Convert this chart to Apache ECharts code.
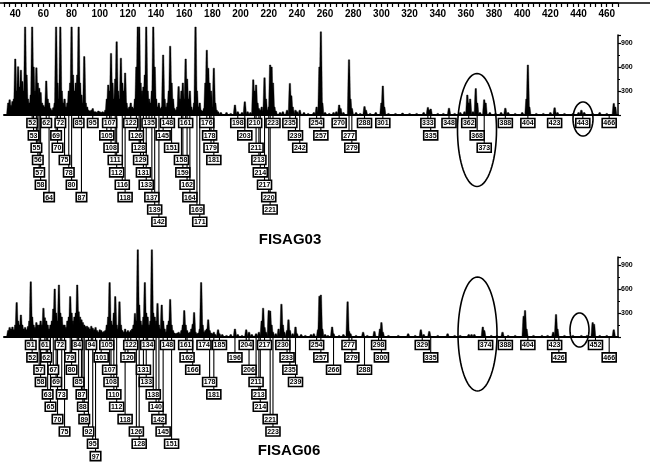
<!DOCTYPE html>
<html>
<head>
<meta charset="utf-8">
<script src="https://cdn.jsdelivr.net/npm/echarts@6/dist/echarts.min.js"></script>
<style>
  html, body { margin: 0; padding: 0; background: #fff; }
  #main { width: 656px; height: 466px; }
</style>
</head>
<body>
<div id="main"></div>
<script>
// m/z ruler
var mzMin = 32, mzMax = 468;
var yTicks = [300, 600, 900];

// FISAG03 spectrum, [m/z, intensity]
var topPeaks = [
  [35,150],[36,190],[37,120],[38,170],[39,200],[40,700],[41,300],[42,604],[43,350],[44,560],
  [45,420],[46,300],[47,1100],[48,500],[49,200],[50,150],[51,250],[52,1100],[53,600],[54,300],
  [55,590],[56,400],[57,335],[58,280],[59,150],[60,120],[61,100],[62,425],[63,200],[64,150],
  [65,80],[66,60],[67,90],[68,150],[69,1100],[70,400],[71,200],[72,1100],[73,300],[74,150],
  [75,200],[76,100],[77,150],[78,300],[79,400],[80,1100],[81,500],[82,300],[83,400],[84,500],
  [85,1100],[86,400],[87,250],[88,150],[89,730],[90,150],[91,100],[92,60],[93,50],[94,60],
  [95,80],[96,40],[97,40],[98,30],[99,50],[100,40],[101,30],[102,40],[103,30],[104,60],
  [105,200],[106,375],[107,300],[108,770],[109,400],[110,200],[111,450],[112,915],[113,300],[114,200],
  [115,710],[116,400],[117,300],[118,525],[119,150],[120,80],[121,100],[122,150],[123,100],[124,80],
  [125,200],[126,600],[127,1100],[128,1100],[129,400],[130,300],[131,350],[132,500],[133,1100],[134,300],
  [135,200],[136,150],[137,300],[138,1100],[139,600],[140,200],[141,100],[142,150],[143,80],[144,100],
  [145,750],[146,200],[147,100],[148,150],[149,300],[150,860],[151,400],[152,200],[153,80],[154,60],
  [155,100],[156,355],[157,200],[158,300],[159,400],[160,200],[161,700],[162,450],[163,200],[164,300],
  [165,100],[166,60],[167,150],[168,1100],[169,300],[170,100],[171,150],[172,60],[173,50],[174,80],
  [175,400],[176,810],[177,585],[178,400],[179,300],[180,100],[181,585],[182,150],[183,60],[184,40],
  [186,30],[190,30],[193,20],[196,125],[198,40],[201,30],[203,165],[205,40],[207,30],[209,440],
  [210,300],[211,375],[212,150],[213,80],[214,60],[215,100],[217,465],[218,200],[219,60],[220,100],
  [221,625],[222,600],[223,400],[224,100],[225,50],[228,30],[230,40],[233,60],[235,395],[236,240],
  [237,100],[239,60],[240,40],[242,60],[245,30],[248,20],[252,30],[254,100],[256,600],[257,1040],
  [258,150],[260,30],[263,20],[266,30],[268,40],[270,125],[271,80],[273,30],[277,690],[278,200],
  [279,80],[282,30],[285,20],[288,105],[289,60],[292,20],[296,30],[300,150],[301,362],[302,100],
  [305,20],[310,20],[315,25],[320,20],[325,20],[330,30],[333,95],[334,60],[335,75],[340,20],
  [344,20],[348,85],[352,20],[356,30],[359,40],[361,250],[362,150],[363,200],[365,40],[367,330],
  [368,150],[370,30],[373,190],[374,150],[377,30],[381,20],[385,30],[388,85],[390,30],[395,20],
  [400,30],[403,200],[404,625],[405,100],[410,20],[415,20],[420,30],[423,90],[425,30],[430,20],
  [436,20],[440,30],[442,60],[444,30],[450,20],[455,30],[460,20],[465,145],[466,100]
];

// FISAG06 spectrum, [m/z, intensity]
var bottomPeaks = [
  [35,80],[36,120],[37,100],[38,125],[39,90],[40,150],[41,430],[42,200],[43,150],[44,275],
  [45,150],[46,100],[47,120],[48,90],[49,130],[50,200],[51,690],[52,250],[53,150],[54,120],
  [55,180],[56,150],[57,150],[58,200],[59,150],[60,360],[61,240],[62,200],[63,150],[64,100],
  [65,150],[66,200],[67,350],[68,600],[69,300],[70,200],[71,650],[72,300],[73,250],[74,150],
  [75,150],[76,120],[77,200],[78,250],[79,505],[80,300],[81,200],[82,250],[83,300],[84,650],
  [85,315],[86,250],[87,215],[88,180],[89,150],[90,130],[91,135],[92,120],[93,100],[94,135],
  [95,110],[96,90],[97,120],[98,80],[99,60],[100,90],[101,80],[102,60],[103,70],[104,80],
  [105,150],[106,250],[107,680],[108,200],[109,150],[110,300],[111,505],[112,150],[113,100],[114,440],
  [115,150],[116,80],[117,60],[118,100],[119,60],[120,80],[121,60],[122,80],[123,100],[124,150],
  [125,295],[126,200],[127,1090],[128,400],[129,200],[130,150],[131,250],[132,680],[133,300],[134,250],
  [135,150],[136,200],[137,1090],[138,300],[139,250],[140,200],[141,420],[142,150],[143,100],[144,400],
  [145,200],[146,100],[147,60],[148,150],[149,200],[150,470],[151,150],[152,80],[153,50],[154,40],
  [155,50],[156,60],[157,40],[158,80],[159,150],[160,330],[161,150],[162,80],[163,50],[164,60],
  [165,100],[166,160],[167,305],[168,60],[169,40],[170,50],[171,100],[172,680],[173,150],[174,60],
  [175,80],[176,100],[177,215],[178,80],[179,50],[180,40],[181,60],[182,30],[184,90],[185,40],
  [187,30],[190,20],[193,30],[196,100],[198,30],[201,20],[204,90],[206,60],[208,30],[211,40],
  [213,60],[215,200],[216,360],[217,120],[218,60],[220,330],[221,325],[222,150],[223,60],[225,40],
  [227,100],[229,410],[230,150],[231,60],[233,80],[234,215],[235,80],[237,40],[239,125],[240,40],
  [243,30],[246,20],[250,30],[252,40],[255,90],[256,510],[257,525],[258,100],[260,30],[262,20],
  [265,125],[266,40],[270,20],[273,30],[276,440],[277,70],[278,40],[282,20],[287,60],[290,20],
  [295,70],[299,100],[300,180],[301,60],[305,20],[312,20],[319,40],[324,20],[328,90],[330,30],
  [334,70],[340,20],[347,40],[352,20],[356,20],[362,30],[364,30],[366,30],[372,125],[373,80],
  [378,20],[382,20],[386,60],[390,20],[395,20],[401,260],[402,330],[403,100],[408,20],[414,20],
  [418,20],[422,60],[424,280],[425,100],[430,20],[436,20],[442,20],[446,20],[450,180],[451,160],
  [455,20],[460,20],[465,90]
];

// peak labels (m/z) and the row each box hangs in
var topLabels = [
  52,62,72,85,95,107,122,135,148,161,176,198,210,223,235,254,270,288,301,333,348,362,388,404,423,443,466,
  53,69,105,126,145,178,203,239,257,277,335,368,
  55,70,108,128,151,179,211,242,279,373,
  56,75,111,129,158,181,213,
  57,78,112,131,159,214,
  58,80,116,133,162,217,
  64,87,118,137,164,220,
  139,169,221,
  142,171
];
var topRows = [
  0,0,0,0,0,0,0,0,0,0,0,0,0,0,0,0,0,0,0,0,0,0,0,0,0,0,0,
  1,1,1,1,1,1,1,1,1,1,1,1,
  2,2,2,2,2,2,2,2,2,2,
  3,3,3,3,3,3,3,
  4,4,4,4,4,4,
  5,5,5,5,5,5,
  6,6,6,6,6,6,
  7,7,7,
  8,8
];
var bottomLabels = [
  51,61,72,84,94,105,122,134,148,161,174,185,204,217,230,254,277,298,329,374,388,404,423,452,
  52,62,79,101,120,162,196,233,257,279,300,335,426,466,
  57,67,80,107,131,166,206,235,266,288,
  58,69,85,108,133,178,211,239,
  63,73,87,110,138,181,213,
  65,88,112,140,214,
  70,89,118,142,221,
  75,92,126,145,223,
  95,128,151,
  97
];
var bottomRows = [
  0,0,0,0,0,0,0,0,0,0,0,0,0,0,0,0,0,0,0,0,0,0,0,0,
  1,1,1,1,1,1,1,1,1,1,1,1,1,1,
  2,2,2,2,2,2,2,2,2,2,
  3,3,3,3,3,3,3,3,
  4,4,4,4,4,4,4,
  5,5,5,5,5,
  6,6,6,6,6,
  7,7,7,7,7,
  8,8,8,
  9
];

var rowGap = 12.35;
var boxShift = { 466: -6 };

function labelItems(masses, rows) {
  return masses.map(function (m, i) {
    return [m, 0, rows[i], boxShift[m] || 0];
  });
}

function peakItem(params, api) {
  var b = api.coord([api.value(0), 0]);
  var t = api.coord([api.value(0), api.value(1)]);
  return {
    type: 'polygon',
    shape: { points: [[b[0] - 1.7, b[1]], [t[0] - 0.7, t[1]], [t[0] + 0.7, t[1]], [b[0] + 1.7, b[1]]] },
    style: { fill: '#000', stroke: '#000', lineWidth: 0.4 }
  };
}

function boxPos(api) {
  var b = api.coord([api.value(0), 0]);
  return [b[0] + api.value(3), b[1] + 8 + api.value(2) * rowGap, b[1]];
}

function leaderItem(params, api) {
  var p = boxPos(api);
  return {
    type: 'line',
    shape: { x1: p[0], y1: p[2], x2: p[0], y2: p[1] - 4.5 },
    style: { stroke: '#000', lineWidth: 1.1 }
  };
}

function boxItem(params, api) {
  var p = boxPos(api);
  var txt = String(api.value(0));
  var w = txt.length > 2 ? 14 : 10.5;
  return {
    type: 'group',
    children: [
      { type: 'rect', shape: { x: p[0] - w / 2, y: p[1] - 4.5, width: w, height: 9 },
        style: { fill: '#fff', stroke: '#000', lineWidth: 1.6 } },
      { type: 'text', x: p[0], y: p[1] + 0.5,
        style: { text: txt, fill: '#000', font: 'bold 7px "Liberation Sans"',
                 align: 'center', verticalAlign: 'middle', textAlign: 'center', textVerticalAlign: 'middle' } }
    ]
  };
}

function ellipse(cx, cy, rx, ry) {
  var pts = [];
  for (var i = 0; i <= 72; i++) {
    var a = i / 72 * Math.PI * 2;
    pts.push([cx + rx * Math.cos(a), cy + ry * Math.sin(a)]);
  }
  return { type: 'polyline', shape: { points: pts }, style: { stroke: '#000', lineWidth: 1.6, fill: null }, z: 50 };
}

var baseAxis = function (grid) {
  return {
    type: 'value', gridIndex: grid, position: 'bottom', min: mzMin, max: mzMax,
    axisLine: { show: true, onZero: false, lineStyle: { color: '#000', width: 2 } },
    axisTick: { show: false }, axisLabel: { show: false }, splitLine: { show: false }
  };
};

var intensityAxis = function (grid) {
  return {
    type: 'value', gridIndex: grid, position: 'right', min: 0, max: 1000, interval: 300,
    axisLine: { show: true, onZero: false, lineStyle: { color: '#000', width: 1.5 } },
    axisTick: { show: true, length: 3, lineStyle: { color: '#000', width: 1.2 } },
    minorTick: { show: true, splitNumber: 2, length: 2, lineStyle: { color: '#000' } },
    axisLabel: {
      color: '#000', fontSize: 7, fontWeight: 'bold', fontFamily: 'Liberation Sans', margin: 3,
      formatter: function (v) { return yTicks.indexOf(v) >= 0 ? String(v) : ''; }
    },
    splitLine: { show: false }
  };
};

var chart = echarts.init(document.getElementById('main'));
chart.setOption({
  backgroundColor: '#fff',
  animation: false,
  grid: [
    { left: 4, right: 38, top: 35, height: 80 },
    { left: 4, right: 38, top: 257, height: 80 }
  ],
  xAxis: [
    {
      type: 'value', gridIndex: 0, position: 'top', offset: 32, min: mzMin, max: mzMax, interval: 4,
      axisLine: { show: true, onZero: false, lineStyle: { color: '#000', width: 1.5 } },
      axisTick: { show: true, inside: true, length: 4, lineStyle: { color: '#000', width: 1.2 } },
      axisLabel: {
        inside: true, margin: 6, color: '#000', fontSize: 10, fontWeight: 'bold', fontFamily: 'Liberation Sans',
        formatter: function (v) { return v % 20 === 0 ? String(v) : ''; }
      },
      splitLine: { show: false }
    },
    baseAxis(0),
    baseAxis(1)
  ],
  yAxis: [intensityAxis(0), intensityAxis(1)],
  series: [
    { type: 'custom', xAxisIndex: 1, yAxisIndex: 0, renderItem: peakItem, data: topPeaks, encode: { x: 0, y: 1 }, z: 2 },
    { type: 'custom', xAxisIndex: 2, yAxisIndex: 1, renderItem: peakItem, data: bottomPeaks, encode: { x: 0, y: 1 }, z: 2 },
    { type: 'custom', xAxisIndex: 1, yAxisIndex: 0, renderItem: leaderItem, data: labelItems(topLabels, topRows), encode: { x: 0, y: 1 }, z: 3 },
    { type: 'custom', xAxisIndex: 2, yAxisIndex: 1, renderItem: leaderItem, data: labelItems(bottomLabels, bottomRows), encode: { x: 0, y: 1 }, z: 3 },
    { type: 'custom', xAxisIndex: 1, yAxisIndex: 0, renderItem: boxItem, data: labelItems(topLabels, topRows), encode: { x: 0, y: 1 }, z: 4 },
    { type: 'custom', xAxisIndex: 2, yAxisIndex: 1, renderItem: boxItem, data: labelItems(bottomLabels, bottomRows), encode: { x: 0, y: 1 }, z: 4 }
  ],
  graphic: [
    { type: 'line', shape: { x1: 0, y1: 3, x2: 650, y2: 3 }, style: { stroke: '#000', lineWidth: 1.5 } },
    { type: 'text', x: 290, y: 240,
      style: { text: 'FISAG03', font: 'bold 15px "Liberation Sans"', fill: '#000', align: 'center', verticalAlign: 'middle' } },
    { type: 'text', x: 289, y: 451,
      style: { text: 'FISAG06', font: 'bold 15px "Liberation Sans"', fill: '#000', align: 'center', verticalAlign: 'middle' } },
    ellipse(477, 130, 19.5, 56.5),
    ellipse(583, 119, 10, 17),
    ellipse(477.5, 334, 19.5, 57),
    ellipse(579.5, 330, 9.5, 17)
  ]
});
</script>
</body>
</html>
